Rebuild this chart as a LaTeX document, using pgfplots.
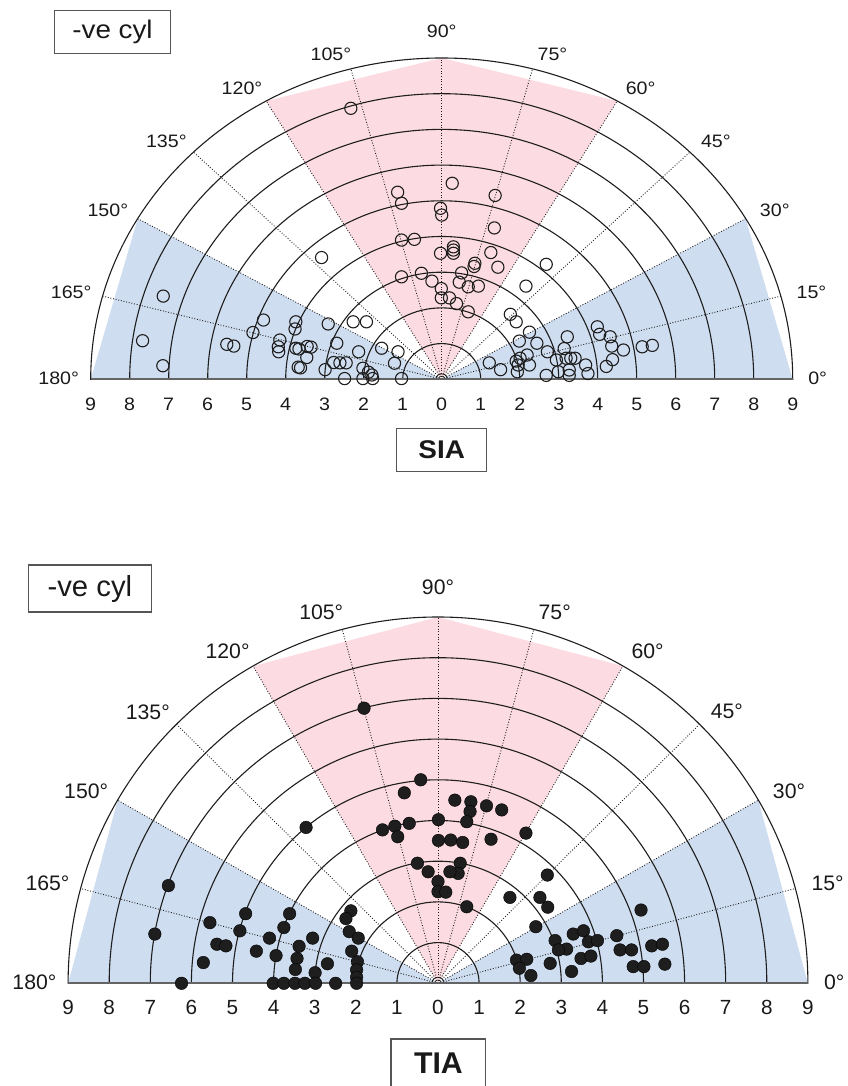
\documentclass[border=0pt]{standalone}
\usepackage{pgfplots}
\pgfplotsset{compat=1.18}
\usepackage{pgfplotstable}
\usepackage{fontspec}
\setmainfont{Liberation Sans}
\newfontfamily\topf[FakeStretch=1.09]{Liberation Sans}
\newfontfamily\botf[FakeStretch=1.01]{Liberation Sans}
\definecolor{pinkc}{RGB}{252,220,226}
\definecolor{bluec}{RGB}{207,221,240}
\definecolor{gridc}{RGB}{30,30,30}
\definecolor{basec}{RGB}{100,100,100}
\definecolor{boxc}{RGB}{85,85,85}
\definecolor{txtc}{RGB}{25,25,25}

% SIA: x = magnitude*cos(axis), y = magnitude*sin(axis)
\pgfplotstableread{
x y
-2.33 7.59
-1.13 5.24
-1.03 4.93
-0.03 4.79
0.00 4.60
0.27 5.49
-1.03 3.90
-0.70 3.92
-3.08 3.41
-0.03 3.53
0.30 3.71
0.30 3.62
0.30 3.53
1.37 5.15
1.35 4.24
1.26 3.55
0.85 3.25
0.83 3.16
1.44 3.14
2.68 3.22
-1.03 2.87
-0.52 2.97
-0.25 2.75
0.51 2.98
0.45 2.72
-0.01 2.54
0.68 2.59
0.94 2.61
-0.01 2.28
0.20 2.28
0.38 2.12
0.68 1.89
2.16 2.61
1.76 1.82
1.91 1.61
2.25 1.32
1.99 1.07
2.44 1.01
1.22 0.46
1.51 0.27
2.01 0.59
1.91 0.51
1.96 0.40
1.94 0.21
2.19 0.68
2.25 0.40
2.68 0.11
2.71 0.77
2.94 0.54
3.22 1.19
3.14 0.86
3.19 0.59
3.31 0.59
3.42 0.59
2.99 0.21
3.27 0.26
3.27 0.11
3.69 0.40
3.75 0.16
3.99 1.47
4.05 1.26
4.32 1.19
4.36 0.93
4.66 0.82
4.38 0.55
4.22 0.36
5.14 0.91
5.40 0.95
-7.14 2.33
-7.67 1.08
-7.15 0.38
-4.57 1.66
-4.84 1.31
-5.51 0.98
-5.33 0.93
-3.74 1.61
-3.76 1.41
-4.15 1.10
-4.19 0.91
-4.18 0.77
-3.74 0.87
-3.66 0.85
-3.45 0.92
-3.35 0.90
-3.46 0.61
-3.68 0.34
-3.62 0.32
-2.91 1.55
-2.69 1.01
-2.99 0.27
-2.77 0.47
-2.61 0.46
-2.45 0.46
-2.27 1.61
-1.93 1.61
-2.13 0.77
-1.54 0.87
-1.12 0.77
-1.21 0.45
-2.02 0.31
-1.88 0.20
-1.79 0.12
-2.02 0.02
-1.77 0.02
-2.49 0.02
-1.03 0.02
}\siadata

% TIA
\pgfplotstableread{
x y
-1.80 6.76
-0.42 5.00
-0.82 4.68
-3.21 3.83
-1.35 3.77
-1.05 3.86
-0.98 3.60
-0.70 3.93
0.01 4.02
0.01 3.51
-0.50 2.95
-0.24 2.74
0.00 2.50
0.00 2.25
-6.56 2.40
-6.89 1.21
-6.24 0.00
-5.55 1.49
-5.38 0.96
-5.16 0.92
-5.71 0.51
-4.68 1.71
-4.82 1.29
-4.42 0.79
-4.10 1.11
-3.61 1.71
-3.75 1.37
-3.94 0.68
-3.38 0.91
-3.43 0.61
-3.47 0.34
-3.05 1.11
-2.69 0.48
-2.99 0.26
-4.01 0.00
-3.75 0.00
-3.48 0.00
-3.24 0.00
-2.98 0.00
-2.49 0.00
-2.12 1.78
-2.24 1.59
-2.16 1.27
-1.94 1.11
-2.10 0.79
-1.96 0.53
-1.98 0.33
-1.98 0.15
-1.98 0.00
0.41 4.50
0.80 4.46
0.78 4.22
0.70 3.97
1.18 4.36
1.55 4.26
0.31 3.52
0.60 3.46
1.29 3.54
2.14 3.69
0.54 2.95
0.49 2.70
0.29 2.74
0.19 2.24
0.70 1.88
2.66 2.66
1.75 2.11
2.48 2.11
2.67 1.87
2.38 1.39
4.94 1.80
1.91 0.57
2.16 0.59
1.98 0.37
2.26 0.19
2.73 0.49
3.25 0.29
2.85 1.05
3.13 0.84
2.93 0.82
3.29 1.21
3.54 1.29
3.66 1.02
3.88 1.05
3.48 0.61
3.72 0.67
4.35 1.17
4.43 0.82
4.71 0.82
4.75 0.41
5.01 0.41
5.20 0.92
5.46 0.96
5.52 0.47
}\tiadata

\pgfplotsset{halfpolar/.style={
  xmin=-9, xmax=9, ymin=0, ymax=9, enlargelimits=false, clip=false,
  axis line style={draw=none}, ytick=\empty, xtick={-9,-8,...,9},
  xticklabels={9,8,7,6,5,4,3,2,1,0,1,2,3,4,5,6,7,8,9},
  major tick length=0pt, tick style={draw=none},
  anchor=south west,
  xticklabel style={anchor=center, text=txtc},
}}

\newcommand\polarbg{%
  \fill[pinkc] (axis cs:0,0) -- (axis cs:4.5,7.7942) -- (axis cs:0,9) -- (axis cs:-4.5,7.7942) -- cycle;
  \fill[bluec] (axis cs:0,0) -- (axis cs:9,0) -- (axis cs:7.7942,4.5) -- cycle;
  \fill[bluec] (axis cs:0,0) -- (axis cs:-9,0) -- (axis cs:-7.7942,4.5) -- cycle;
  \begin{scope}
    \clip (axis cs:-9.6,0) rectangle (axis cs:9.6,9.6);
    \pgfplotsinvokeforeach{1,2,3,4,5,6,7,8,9}{%
      \draw[gridc, line width=1.1pt] (axis cs:0,0) ellipse [x radius=##1, y radius=##1];}
    \draw[gridc, line width=0.8pt] (axis cs:0,0) ellipse [x radius=0.15, y radius=0.15];
  \end{scope}
  \pgfplotsinvokeforeach{15,30,45,60,75,90,105,120,135,150,165}{%
    \draw[gridc, line width=0.9pt, dash pattern=on 0.9pt off 1.8pt] (axis cs:0,0) -- (axis cs:{9*cos(##1)},{9*sin(##1)});}
  \draw[basec, line width=1.6pt] (axis cs:-9,0) -- (axis cs:9,0);
}

\newcommand\anglelabels{%
  \node at (axis cs:9.64,0.02) {0°};
  \node at (axis cs:9.48,2.45) {15°};
  \node at (axis cs:8.54,4.73) {30°};
  \node at (axis cs:7.03,6.68) {45°};
  \node at (axis cs:5.10,8.16) {60°};
  \node at (axis cs:2.84,9.11) {75°};
  \node at (axis cs:0,9.74) {90°};
  \node at (axis cs:-2.84,9.11) {105°};
  \node at (axis cs:-5.12,8.16) {120°};
  \node at (axis cs:-7.06,6.67) {135°};
  \node at (axis cs:-8.56,4.72) {150°};
  \node at (axis cs:-9.50,2.45) {165°};
  \node at (axis cs:-9.82,0.02) {180°};
}

\begin{document}
\begin{tikzpicture}
\useasboundingbox (0,0) rectangle (847pt,1086pt);
% ---------- SIA ----------
\begin{axis}[halfpolar, x=39pt, y=35.7pt, at={(90.7pt,706.7pt)},
  xticklabel style={font=\topf\fontsize{18}{18}\selectfont, yshift=-25pt}]
  \polarbg
  \begin{scope}[every node/.style={font=\topf\fontsize{18}{18}\selectfont, text=txtc, inner sep=0pt}]
  \anglelabels
  \end{scope}
  \node[draw=boxc, line width=1.1pt, minimum width=116.7pt, minimum height=42.6pt, inner sep=0pt,
        font=\topf\fontsize{25.5}{25.5}\selectfont, text=txtc] at (axis cs:-8.44,9.73) {-ve cyl};
  \node[draw=boxc, line width=1.1pt, minimum width=90pt, minimum height=43.4pt, inner sep=0pt,
        font=\topf\bfseries\fontsize{25.6}{25.6}\selectfont, text=txtc] at (axis cs:0,-1.98) {SIA};
  \addplot[only marks, mark=o, mark size=6.1pt, mark options={line width=1.1pt, draw=gridc}]
    table[x=x, y=y] {\siadata};
\end{axis}
% ---------- TIA ----------
\begin{axis}[halfpolar, x=41.1pt, y=40.7pt, at={(68.1pt,102.7pt)},
  xticklabel style={font=\botf\fontsize{20.5}{20.5}\selectfont, yshift=-24pt}]
  \polarbg
  \begin{scope}[every node/.style={font=\botf\fontsize{21}{21}\selectfont, text=txtc, inner sep=0pt}]
  \anglelabels
  \end{scope}
  \node[draw=boxc, line width=1.2pt, minimum width=123.4pt, minimum height=47pt, inner sep=0pt,
        font=\botf\fontsize{29}{29}\selectfont, text=txtc] at (axis cs:-8.47,9.70) {-ve cyl};
  \node[draw=boxc, line width=1.2pt, minimum width=94.7pt, minimum height=48pt, inner sep=0pt,
        font=\botf\bfseries\fontsize{30}{30}\selectfont, text=txtc] at (axis cs:0.01,-1.96) {TIA};
  \addplot[only marks, mark=*, mark size=6.3pt, mark options={draw=none, fill=gridc}]
    table[x=x, y=y] {\tiadata};
\end{axis}
\end{tikzpicture}
\end{document}
